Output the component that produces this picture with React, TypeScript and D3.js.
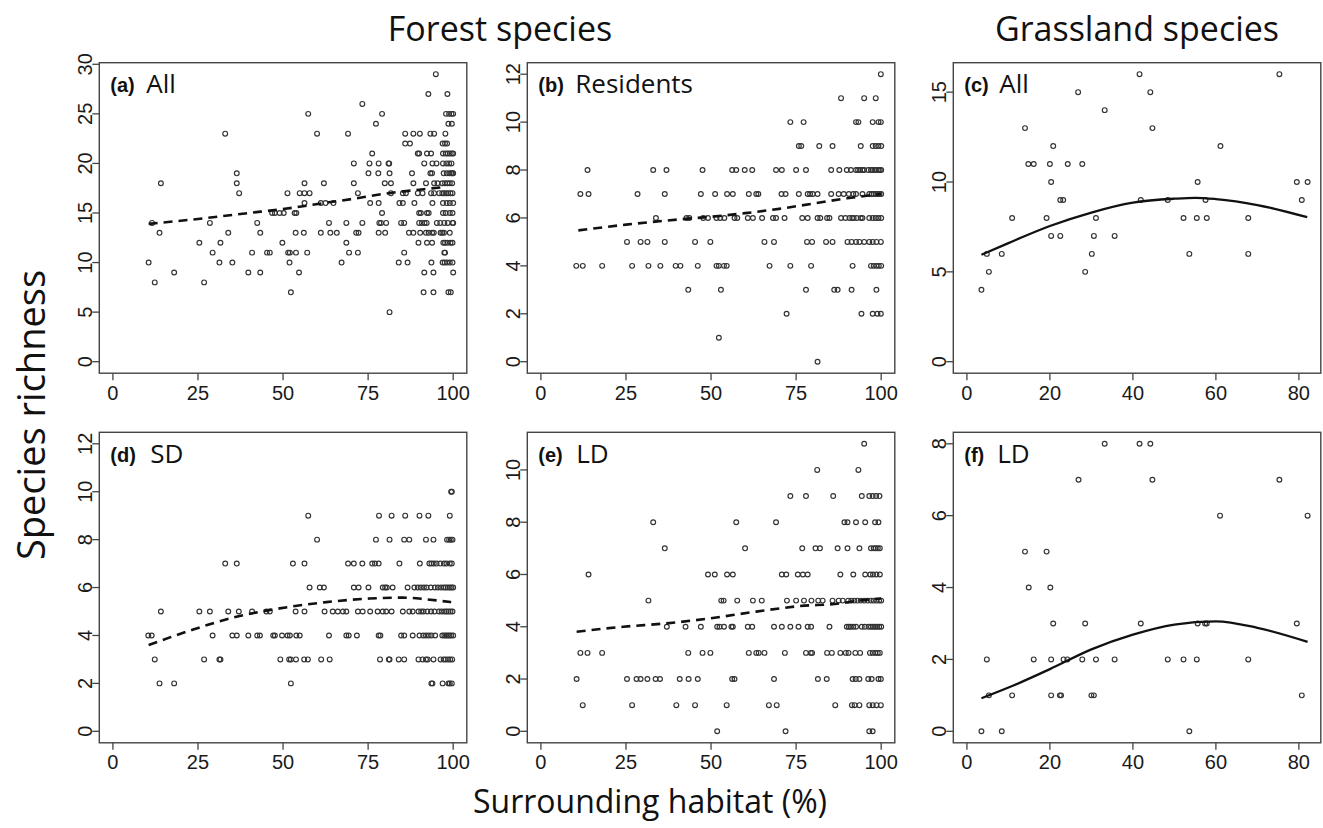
import React from 'react';
import * as d3 from 'd3';

// Species richness vs surrounding habitat (%), points grouped by richness value: [richness, habitat %s]
type Row = [number, number[]];

const forestAll: Row[] = [
  [29, [94.9]],
  [27, [92.7, 98.3]],
  [26, [73.3]],
  [25, [57.4, 79.1, 97.9, 98.8, 99.5, 100]],
  [24, [77.3, 98.6, 99.6]],
  [23, [33.0, 60.0, 69.1, 85.9, 88.3, 90.2, 93.3, 94.4, 97.7]],
  [22, [85.9, 87.3, 96.9, 97.6, 98.2]],
  [21, [76.2, 89.6, 90.0, 92.3, 93.5, 97.0, 97.8, 98.4, 99.0, 99.6, 100]],
  [20, [70.8, 75.4, 78.1, 81.0, 81.2, 91.5, 93.9, 95.1, 97.0, 98.0, 98.8, 99.5]],
  [19, [36.4, 75.1, 78.0, 81.3, 87.9, 93.3, 93.8, 97.2, 98.1, 98.9, 99.4, 99.8, 100]],
  [18, [14.1, 36.4, 56.3, 62.0, 70.8, 79.9, 81.7, 88.3, 92.0, 94.4, 95.4, 96.8, 97.6, 98.3, 99.0, 99.7]],
  [17, [37.1, 51.3, 54.9, 56.3, 57.8, 72.0, 81.7, 85.2, 86.1, 89.6, 91.0, 93.5, 94.4, 95.9, 96.8, 97.3, 97.9, 98.5, 99.2, 99.8]],
  [16, [56.3, 61.1, 62.5, 64.8, 75.6, 78.1, 84.2, 85.2, 88.6, 93.9, 97.0, 98.1, 99.0, 100]],
  [15, [46.8, 47.6, 49.0, 50.2, 53.4, 53.9, 79.1, 90.0, 90.5, 92.3, 92.8, 97.0, 97.8, 99.0, 99.8]],
  [14, [11.5, 28.5, 42.4, 63.5, 68.6, 73.3, 78.3, 78.8, 80.3, 84.7, 85.6, 90.0, 90.8, 91.6, 92.2, 95.2, 96.2, 97.4, 98.4, 99.8, 100]],
  [13, [13.7, 33.9, 43.3, 53.7, 56.1, 61.1, 63.9, 65.8, 71.5, 72.2, 78.1, 80.0, 87.0, 88.3, 90.3, 92.0, 92.8, 93.8, 94.3, 96.3, 96.8, 97.3, 99.0]],
  [12, [25.4, 31.6, 49.8, 68.6, 89.8, 92.3, 93.8, 97.1, 97.6, 98.3, 99.2, 99.8]],
  [11, [29.3, 40.9, 45.3, 46.1, 51.5, 52.0, 53.8, 57.1, 69.4, 72.0, 85.6, 97.4, 97.6]],
  [10, [10.5, 31.3, 35.1, 51.9, 67.2, 84.0, 86.6, 93.6, 96.9, 97.5, 98.2, 99.0, 99.8]],
  [9, [18.0, 39.8, 43.3, 54.7, 91.5, 94.2, 100]],
  [8, [12.3, 26.8]],
  [7, [52.3, 91.3, 94.2, 98.6, 99.3]],
  [5, [81.3]],
];

const forestResidents: Row[] = [
  [12, [99.9]],
  [11, [88.2, 95.0, 98.4]],
  [10, [73.3, 77.2, 92.6, 93.3, 97.5, 99.2, 99.9]],
  [9, [75.8, 76.5, 81.8, 85.7, 94.0, 97.5, 98.4, 99.2, 100]],
  [8, [13.7, 33.0, 36.9, 47.5, 56.2, 57.4, 59.9, 62.1, 69.1, 70.8, 75.0, 77.9, 85.3, 87.7, 89.9, 91.1, 92.6, 93.2, 93.8, 94.5, 95.0, 96.2, 97.0, 97.4, 98.0, 98.4, 99.2, 99.6, 100]],
  [7, [11.6, 14.0, 28.4, 36.4, 47.0, 51.2, 54.7, 56.4, 61.1, 63.3, 63.9, 70.7, 71.9, 75.8, 78.4, 79.1, 79.9, 81.3, 85.3, 87.5, 89.0, 90.5, 91.8, 92.6, 94.5, 96.5, 97.2, 97.8, 98.4, 99.0, 99.5, 100]],
  [6, [33.8, 42.8, 43.6, 47.7, 49.1, 51.6, 52.7, 53.9, 56.9, 57.7, 60.8, 62.3, 65.0, 68.2, 69.1, 71.6, 76.8, 78.4, 81.3, 82.1, 84.1, 84.8, 88.2, 89.5, 90.7, 91.5, 91.9, 92.8, 94.0, 94.5, 96.5, 97.5, 98.4, 99.2, 100]],
  [5, [25.3, 29.3, 31.3, 36.4, 45.3, 49.8, 65.7, 68.5, 78.2, 79.7, 83.8, 85.7, 90.1, 91.3, 92.6, 93.6, 95.0, 96.5, 97.5, 98.6, 99.9]],
  [4, [10.4, 12.3, 18.0, 26.8, 31.6, 35.1, 39.6, 41.0, 46.1, 51.6, 52.3, 53.8, 54.6, 67.2, 73.3, 79.4, 91.6, 97.0, 97.8, 98.6, 99.3, 100]],
  [3, [43.3, 52.9, 77.9, 86.2, 87.2, 91.3, 98.6]],
  [2, [72.2, 94.2, 97.5, 98.9, 99.9]],
  [1, [52.3]],
  [0, [81.3]],
];

const grassAll: Row[] = [
  [16, [41.6, 75.3]],
  [15, [26.8, 44.2]],
  [14, [33.2]],
  [13, [14.0, 44.7]],
  [12, [20.8, 61.1]],
  [11, [14.8, 16.1, 20.0, 24.3, 27.8]],
  [10, [20.3, 55.6, 79.5, 82.1]],
  [9, [22.5, 23.2, 41.9, 48.4, 57.5, 80.7]],
  [8, [10.9, 19.2, 31.1, 52.2, 55.4, 57.8, 67.8]],
  [7, [20.3, 22.5, 30.6, 35.6]],
  [6, [4.8, 8.4, 30.1, 53.6, 67.8]],
  [5, [5.3, 28.5]],
  [4, [3.5]],
];

const forestSD: Row[] = [
  [10, [99.4, 99.6]],
  [9, [57.4, 78.2, 81.9, 85.9, 90.1, 92.7, 99.0]],
  [8, [60.0, 77.3, 81.3, 85.6, 87.1, 92.0, 94.2, 98.2, 98.8, 99.3, 99.8]],
  [7, [33.0, 36.4, 52.9, 56.3, 69.1, 70.8, 73.3, 76.2, 77.0, 78.1, 84.2, 90.2, 93.0, 93.6, 94.3, 95.1, 96.2, 97.3, 98.0, 99.0, 99.6]],
  [6, [57.8, 60.8, 62.0, 70.8, 72.2, 75.1, 79.3, 80.0, 80.5, 82.2, 86.6, 88.6, 89.6, 90.5, 91.4, 92.2, 93.4, 94.6, 95.5, 96.4, 97.2, 97.8, 98.4, 99.0, 99.5, 100]],
  [5, [14.1, 25.4, 28.5, 33.9, 37.0, 40.9, 45.1, 46.1, 53.7, 56.3, 62.2, 64.6, 66.1, 67.6, 68.6, 72.0, 73.4, 75.6, 77.8, 79.3, 80.3, 81.9, 85.2, 87.1, 88.1, 89.8, 90.6, 91.3, 92.4, 93.5, 94.5, 95.8, 96.6, 97.4, 98.0, 98.6, 99.2, 99.8]],
  [4, [10.4, 11.4, 29.3, 35.1, 36.4, 39.8, 42.4, 43.2, 47.1, 47.6, 49.7, 51.3, 52.0, 53.9, 54.9, 63.5, 68.6, 69.3, 71.7, 78.1, 78.6, 84.7, 85.6, 88.1, 90.1, 91.2, 92.0, 92.8, 93.6, 94.7, 96.8, 97.4, 97.9, 98.4, 98.9, 99.4, 100]],
  [3, [12.3, 26.8, 31.3, 31.6, 49.2, 51.8, 52.3, 53.8, 56.2, 57.3, 61.2, 63.7, 78.5, 81.1, 81.3, 84.0, 85.6, 89.8, 91.0, 92.0, 92.5, 94.2, 96.3, 97.2, 97.8, 98.5, 99.1, 99.7]],
  [2, [13.7, 18.0, 52.3, 93.6, 93.9, 96.9, 98.6, 99.0, 99.6]],
];

const forestLD: Row[] = [
  [11, [95.0]],
  [10, [81.2, 93.3]],
  [9, [73.3, 77.9, 85.9, 94.3, 96.5, 97.5, 98.5, 99.5]],
  [8, [33.0, 57.4, 69.1, 89.2, 90.1, 92.6, 95.3, 98.2, 99.2]],
  [7, [36.4, 60.0, 76.8, 80.7, 82.0, 87.2, 90.1, 93.6, 97.0, 97.8, 98.4, 99.0, 99.6]],
  [6, [14.0, 49.1, 51.1, 54.7, 56.4, 70.8, 72.1, 75.5, 77.0, 78.4, 88.0, 91.8, 95.3, 96.8, 97.6, 98.6, 99.6]],
  [5, [31.6, 53.0, 53.7, 57.7, 62.3, 64.9, 72.3, 75.0, 77.3, 79.5, 81.5, 82.8, 85.7, 87.5, 88.7, 90.3, 91.2, 92.1, 93.0, 94.0, 95.0, 96.0, 97.0, 97.8, 98.6, 99.4, 100]],
  [4, [37.0, 42.5, 47.0, 51.8, 52.5, 53.8, 56.0, 56.4, 60.8, 62.1, 68.5, 70.8, 73.3, 75.7, 78.4, 79.4, 84.8, 89.9, 90.5, 91.0, 91.8, 92.6, 94.3, 95.2, 96.3, 97.0, 97.6, 98.2, 98.8, 99.4, 100]],
  [3, [11.6, 13.7, 18.0, 43.3, 47.5, 49.8, 61.1, 63.3, 64.0, 65.7, 71.7, 77.9, 79.3, 79.7, 84.1, 85.5, 88.0, 89.6, 90.4, 92.4, 93.8, 96.7, 97.5, 98.3, 99.0, 99.6]],
  [2, [10.5, 25.3, 28.1, 29.3, 31.3, 33.7, 35.0, 40.8, 43.4, 46.1, 56.2, 56.9, 68.5, 81.4, 84.0, 91.6, 92.5, 93.6, 96.2, 97.2, 99.2, 99.9]],
  [1, [12.3, 26.8, 39.8, 45.3, 54.6, 67.0, 69.3, 86.5, 91.4, 92.2, 93.6, 96.5, 97.5, 98.6, 99.9]],
  [0, [51.8, 71.9, 96.5, 97.5]],
];

const grassLD: Row[] = [
  [8, [33.2, 41.6, 44.2]],
  [7, [26.9, 44.7, 75.3]],
  [6, [61.0, 82.1]],
  [5, [14.0, 19.2]],
  [4, [14.9, 20.1]],
  [3, [20.8, 28.5, 41.9, 55.6, 57.4, 57.8, 79.5]],
  [2, [4.8, 16.1, 20.3, 23.3, 24.2, 27.8, 31.1, 35.6, 48.4, 52.2, 55.4, 67.8]],
  [1, [5.3, 10.9, 20.3, 22.4, 22.7, 30.0, 30.6, 80.7]],
  [0, [3.5, 8.4, 53.6]],
];

// fitted curves [habitat %, richness]
const fitForestAll: [number, number][] = [[10.5, 13.9], [25, 14.4], [40, 15.0], [50, 15.4], [62, 16.0], [70, 16.4], [80, 16.95], [90, 17.35], [97, 17.6]];
const fitResidents: [number, number][] = [[11, 5.48], [25, 5.72], [40, 5.93], [50, 6.05], [60, 6.2], [70, 6.38], [80, 6.6], [90, 6.82], [100, 7.0]];
const fitGrassAll: [number, number][] = [[3.5, 5.95], [10, 6.6], [20, 7.55], [30, 8.3], [40, 8.85], [50, 9.07], [55, 9.12], [60, 9.05], [70, 8.72], [82, 8.04]];
const fitSD: [number, number][] = [[10.5, 3.6], [23.6, 4.25], [36.3, 4.78], [49, 5.13], [62.7, 5.39], [75.4, 5.54], [85.2, 5.58], [92, 5.51], [99.4, 5.39]];
const fitLD: [number, number][] = [[10.5, 3.81], [24.2, 4.0], [36.9, 4.13], [49.6, 4.32], [63.3, 4.58], [76, 4.79], [87.7, 4.89], [93.5, 5.0], [100, 5.08]];
const fitGrassLD: [number, number][] = [[3.5, 0.92], [10.9, 1.26], [20, 1.73], [30, 2.28], [40, 2.69], [50, 2.97], [60, 3.06], [70, 2.88], [82.1, 2.49]];

const forestXTicks = [0, 25, 50, 75, 100];
const grassXTicks = [0, 20, 40, 60, 80];

const columnTitles = ['Forest species', 'Grassland species'];
const yTitle = 'Species richness';
const xTitle = 'Surrounding habitat (%)';

interface Panel {
  tag: string;
  name: string;
  col: number;
  row: number;
  rows: Row[];
  fit: [number, number][];
  dashed: boolean;
  xlim: [number, number];
  ylim: [number, number];
  xticks: number[];
  yticks: number[];
  nameDx: number;
}

const panels: Panel[] = [
  { tag: '(a)', name: 'All', col: 0, row: 0, rows: forestAll, fit: fitForestAll, dashed: true, xlim: [0, 100], ylim: [0, 29], xticks: forestXTicks, yticks: [0, 5, 10, 15, 20, 25, 30], nameDx: 47 },
  { tag: '(b)', name: 'Residents', col: 1, row: 0, rows: forestResidents, fit: fitResidents, dashed: true, xlim: [0, 100], ylim: [0, 12], xticks: forestXTicks, yticks: [0, 2, 4, 6, 8, 10, 12], nameDx: 48 },
  { tag: '(c)', name: 'All', col: 2, row: 0, rows: grassAll, fit: fitGrassAll, dashed: false, xlim: [0, 82], ylim: [0, 16], xticks: grassXTicks, yticks: [0, 5, 10, 15], nameDx: 46 },
  { tag: '(d)', name: 'SD', col: 0, row: 1, rows: forestSD, fit: fitSD, dashed: true, xlim: [0, 100], ylim: [0, 12], xticks: forestXTicks, yticks: [0, 2, 4, 6, 8, 10, 12], nameDx: 51 },
  { tag: '(e)', name: 'LD', col: 1, row: 1, rows: forestLD, fit: fitLD, dashed: true, xlim: [0, 100], ylim: [0, 11], xticks: forestXTicks, yticks: [0, 2, 4, 6, 8, 10], nameDx: 49 },
  { tag: '(f)', name: 'LD', col: 2, row: 1, rows: grassLD, fit: fitGrassLD, dashed: false, xlim: [0, 82], ylim: [0, 8], xticks: grassXTicks, yticks: [0, 2, 4, 6, 8], nameDx: 44 },
];

const W = 1323;
const H = 828;
const colLeft = [99.3, 527.3, 953.3];
const rowTop = [62.7, 432.3];
const boxW = 367.5;
const boxH = 310.5;

const tickFont = '"Liberation Sans", Arial, sans-serif';
const titleFont = '"Open Sans", "Noto Sans", sans-serif';
const ink = '#1a1a1a';

// R-style 4% axis extension
const pad = ([a, b]: [number, number]): [number, number] => {
  const d = (b - a) * 0.04;
  return [a - d, b + d];
};

const PanelPlot: React.FC<{ p: Panel }> = ({ p }) => {
  const left = colLeft[p.col];
  const top = rowTop[p.row];
  const x = d3.scaleLinear().domain(pad(p.xlim)).range([left, left + boxW]);
  const y = d3.scaleLinear().domain(pad(p.ylim)).range([top + boxH, top]);
  const pts = p.rows.flatMap(([r, xs]) => xs.map(v => [v, r] as [number, number]));
  const line = d3.line<[number, number]>()
    .x(d => x(d[0]))
    .y(d => y(d[1]))
    .curve(d3.curveMonotoneX);
  const bottom = top + boxH;

  return (
    <g>
      <rect x={left} y={top} width={boxW} height={boxH} fill="none" stroke="#444" strokeWidth={1.4} />
      {p.xticks.map(t => (
        <g key={'x' + t}>
          <line x1={x(t)} x2={x(t)} y1={bottom} y2={bottom + 7} stroke="#444" strokeWidth={1.3} />
          <text x={x(t)} y={bottom + 26.5} textAnchor="middle" fontFamily={tickFont} fontSize={20} fill={ink}>{t}</text>
        </g>
      ))}
      {p.yticks.map(t => (
        <g key={'y' + t}>
          <line x1={left - 7} x2={left} y1={y(t)} y2={y(t)} stroke="#444" strokeWidth={1.3} />
          <text transform={`translate(${left - 7.5},${y(t)}) rotate(-90)`} textAnchor="middle" fontFamily={tickFont} fontSize={20} fill={ink}>{t}</text>
        </g>
      ))}
      {pts.map((d, i) => (
        <circle key={i} cx={x(d[0])} cy={y(d[1])} r={2.4} fill="none" stroke="#333" strokeWidth={1.15} />
      ))}
      <path d={line(p.fit) || ''} fill="none" stroke="#111" strokeWidth={p.dashed ? 2.6 : 2.3}
        strokeDasharray={p.dashed ? '9 6' : undefined} />
      <text x={left + 11} y={top + 29.5} fontFamily={tickFont} fontWeight={700} fontSize={20} fill="#111">{p.tag}</text>
      <text x={left + p.nameDx} y={top + 30.5} fontFamily={titleFont} fontSize={26} fill="#111">{p.name}</text>
    </g>
  );
};

export default function App() {
  return (
    <div style={{ position: 'absolute', left: 0, top: 0 }}>
      <svg width={W} height={H} style={{ display: 'block', background: '#fff' }}>
        <text x={500} y={41} textAnchor="middle" fontFamily={titleFont} fontSize={34} fill="#111">{columnTitles[0]}</text>
        <text x={1137} y={41} textAnchor="middle" fontFamily={titleFont} fontSize={34} fill="#111">{columnTitles[1]}</text>
        <text transform={`translate(45,415) rotate(-90)`} textAnchor="middle" fontFamily={titleFont} fontSize={38} fill="#111">{yTitle}</text>
        <text x={650} y={813} textAnchor="middle" fontFamily={titleFont} fontSize={32} fill="#111">{xTitle}</text>
        {panels.map(p => <PanelPlot key={p.tag} p={p} />)}
      </svg>
    </div>
  );
}
